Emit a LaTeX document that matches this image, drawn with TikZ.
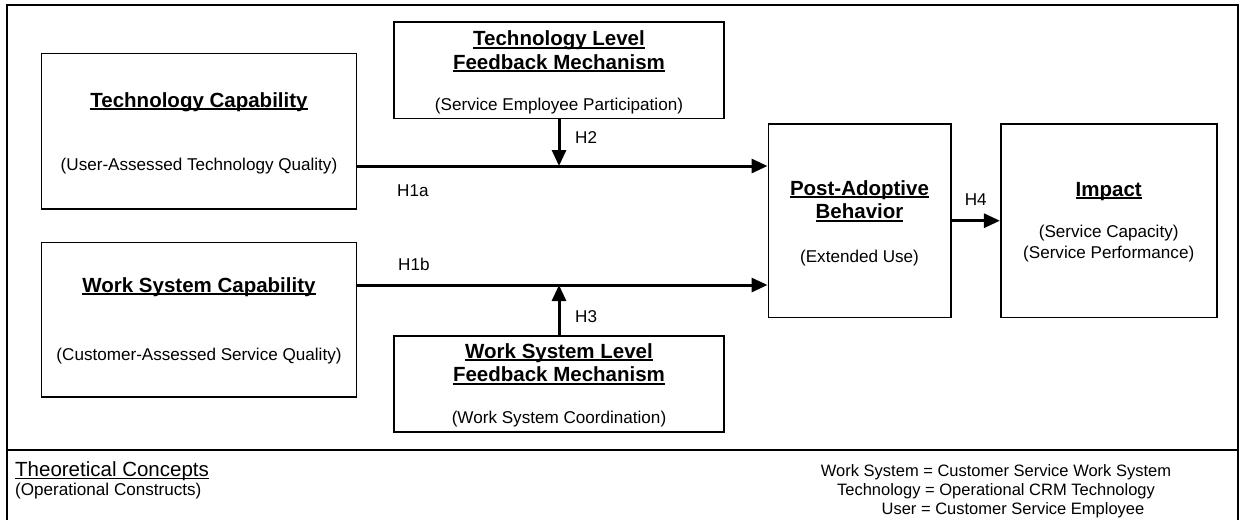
\documentclass[tikz,border=0pt]{standalone}
\usepackage{fontspec}
\setmainfont{Liberation Sans}
\usetikzlibrary{arrows.meta,positioning}
\newcommand{\undl}[1]{\leavevmode\setbox0\hbox{#1}\rlap{\rule[-0.13em]{\wd0}{0.075em}}\box0}
\newcommand{\ttlfont}{\fontsize{20.5}{23.5}\selectfont\bfseries}
\newcommand{\subfont}{\fontsize{17.1}{20.5}\selectfont}

\begin{document}
\begin{tikzpicture}[x=1pt, y=-1pt, box/.style={rectangle, draw, line width=1.6pt, inner sep=0pt}, ttl/.style={font=\ttlfont, inner sep=0pt, align=center}, subtxt/.style={font=\subfont, inner sep=0pt, align=center}, hyp/.style={line width=3pt, -{Triangle[length=16pt, width=14pt]}}, panel/.style={line width=2pt}]

  \useasboundingbox (0,0) rectangle (1241,520);
  \draw[panel] (7,520) |- (1238,5) -- (1238,520);
  \draw[panel] (7,450) -- (1238,450);

  \node[box, minimum width=315, minimum height=155.7] (tc) at (199,131.2) {};
  \node[box, minimum width=315, minimum height=154.4] (ws) at (199,319.5) {};
  \node[box, minimum width=330, minimum height=96.6] (tl) at (559,70) {};
  \node[box, minimum width=330, minimum height=96] (wsl) at (559,383.7) {};
  \node[box, minimum width=182.4, minimum height=193.3] (pa) at (859.5,220.7) {};
  \node[box, minimum width=216, minimum height=193.3, right=48.4pt of pa] (im) {};

  \node[ttl, anchor=base] (tcname) at (199,107) {\undl{Technology Capability}};
  \node[subtxt, anchor=base] (tcop) at (199,170) {(User-Assessed Technology Quality)};
  \node[ttl, anchor=base] (wsname) at (199,292) {\undl{Work System Capability}};
  \node[subtxt, anchor=base] (wsop) at (199,360) {(Customer-Assessed Service Quality)};
  \node[ttl, anchor=north] (tlname) at (559,30.8) {\undl{Technology Level}\\\undl{Feedback Mechanism}};
  \node[subtxt, anchor=base] (tlop) at (559,110.4) {(Service Employee Participation)};
  \node[ttl, anchor=north] (wslname) at (559,343.3) {\undl{Work System Level}\\\undl{Feedback Mechanism}};
  \node[subtxt, anchor=base] (wslop) at (559,423.7) {(Work System Coordination)};
  \node[ttl, anchor=north] (paname) at (859.5,180.3) {\undl{Post-Adoptive}\\\undl{Behavior}};
  \node[subtxt, anchor=base] (paop) at (859.5,262.5) {(Extended Use)};
  \node[ttl, anchor=base] (imname) at (1108.7,196) {\undl{Impact}};
  \node[subtxt, anchor=north] (imop) at (1108.7,225.2) {(Service Capacity)\\(Service Performance)};

  \node[subtxt, anchor=base west] (h1a) at (397,196.5) {H1a};
  \node[subtxt, anchor=base west] (h1b) at (398,270) {H1b};
  \node[subtxt, anchor=base west] (h2) at (575,143.3) {H2};
  \node[subtxt, anchor=base west] (h3) at (575,322.7) {H3};
  \node[subtxt, anchor=base] (h4) at (975.7,205.7) {H4};

  \node[font=\fontsize{20.5}{25}\selectfont, inner sep=0pt, anchor=base west] (concepts) at (15,476.5) {\undl{Theoretical Concepts}};
  \node[subtxt, anchor=base west] (constructs) at (15,495) {(Operational Constructs)};
  \node[font=\fontsize{16.5}{19}\selectfont, inner sep=0pt, align=center, anchor=north] (legend) at (996,464.2) {Work System = Customer Service Work System\\Technology = Operational CRM Technology\\\hspace*{34pt}User = Customer Service Employee};

  \coordinate (lineA) at (0,166);
  \coordinate (lineB) at (0,285);
  \draw[hyp] (tc.east |- lineA) -- (pa.west |- lineA);
  \draw[hyp] (ws.east |- lineB) -- (pa.west |- lineB);
  \draw[hyp] (tl.south) -- (tl.south |- lineA);
  \draw[hyp] (wsl.north) -- (wsl.north |- lineB);
  \draw[hyp] (pa.east) -- (im.west);
\end{tikzpicture}
\end{document}
